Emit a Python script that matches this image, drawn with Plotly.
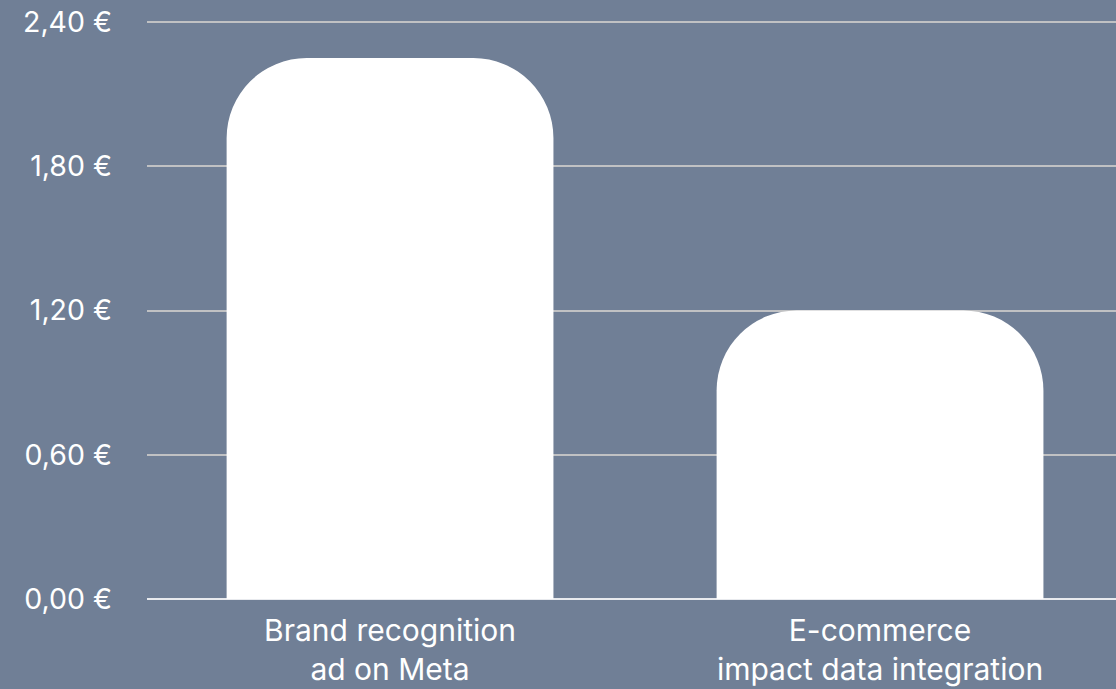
import plotly.graph_objects as go

categories = ["Brand recognition<br>ad on Meta", "E-commerce<br>impact data integration"]
values = [2.25, 1.20]
tick_values = [0.0, 0.6, 1.2, 1.8, 2.4]
tick_labels = ["0,00 €", "0,60 €", "1,20 €", "1,80 €", "2,40 €"]

BG = "#707f96"
FONT = "Inter"

fig = go.Figure(
    go.Bar(
        x=[0, 1],
        y=values,
        width=0.667,
        marker=dict(color="#ffffff", line=dict(width=0)),
        hoverinfo="skip",
    )
)

fig.update_layout(
    width=1116,
    height=689,
    paper_bgcolor=BG,
    plot_bgcolor=BG,
    margin=dict(l=147, r=0, t=10, b=90),
    showlegend=False,
    barcornerradius=80,
    font=dict(family=FONT, color="#ffffff", size=28),
)

fig.update_xaxes(
    range=[-0.496, 1.4816],
    tickvals=[0, 1],
    ticktext=categories,
    showgrid=False,
    zeroline=False,
    showline=False,
    ticks="",
    ticklabelstandoff=11,
    tickfont=dict(family=FONT, size=30, color="#ffffff"),
    fixedrange=True,
)

fig.update_yaxes(
    range=[0, 2.45],
    tickvals=tick_values,
    ticktext=tick_labels,
    showgrid=True,
    gridcolor="#c0c1c3",
    gridwidth=2,
    zeroline=True,
    zerolinecolor="#e8eaee",
    zerolinewidth=2,
    showline=False,
    ticks="",
    ticklabelstandoff=34,
    tickfont=dict(family=FONT, size=28.5, color="#ffffff"),
    fixedrange=True,
)

fig.write_html("out.html", config={"displayModeBar": False})
